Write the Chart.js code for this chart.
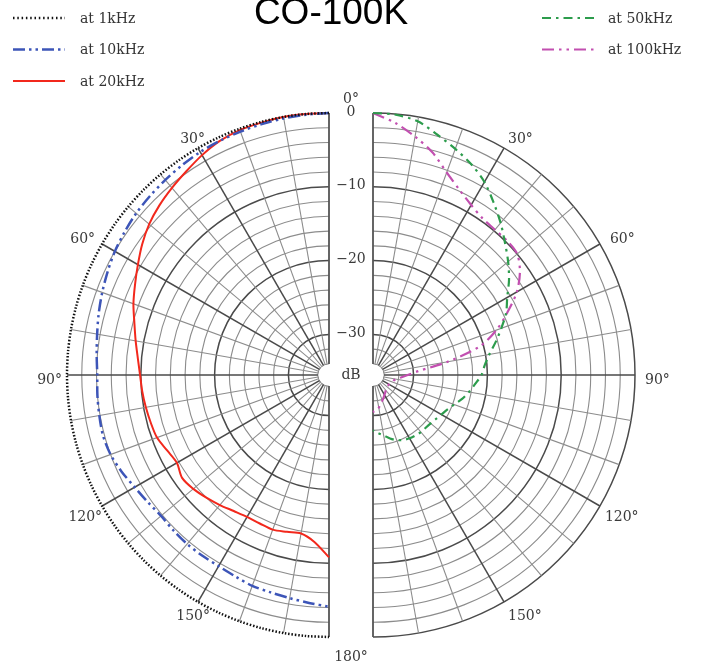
<!DOCTYPE html>
<html>
<head>
<meta charset="utf-8">
<script src="https://cdn.jsdelivr.net/npm/chart.js@4.4.1/dist/chart.umd.min.js"></script>
<style>
	html, body { margin: 0; padding: 0; background: #fff; }
	#polar { display: block; }
</style>
</head>
<body>
<canvas id="polar" width="701" height="665"></canvas>
<script>
// angles in degrees, 0 = front (top), 180 = back (bottom)
var angles = [0, 5, 10, 15, 20, 25, 30, 35, 40, 45, 50, 55, 60, 65, 70, 75, 80, 85, 90,
	95, 100, 105, 110, 115, 120, 125, 130, 135, 140, 145, 150, 155, 160, 165, 170, 175, 180];

// left half
var at1kHz = [0, 0, 0, 0, 0, 0, 0, 0, 0, 0, 0, 0, 0, 0, 0, 0, 0, 0, 0,
	0, 0, 0, 0, 0, 0, 0, 0, 0, 0, 0, 0, 0, 0, 0, 0, 0, 0];
var at10kHz = [0, -0.1, -0.2, -0.3, -0.4, -0.5, -0.6, -0.8, -1.0, -1.2, -1.4, -1.7, -2.0, -2.4, -2.8, -3.2, -3.6, -3.9, -4.1,
	-4.0, -3.9, -3.8, -4.0, -4.5, -5.1, -5.5, -5.8, -5.7, -5.6, -5.6, -5.6, -5.4, -5.1, -5.0, -4.8, -4.5, -4.1];
var at20kHz = [0, 0, 0, -0.1, -0.2, -0.5, -1.1, -1.8, -2.4, -3.0, -3.7, -4.6, -5.6, -6.5, -7.3, -8.2, -8.9, -9.5, -9.9,
	-10.1, -10.3, -10.5, -10.7, -11.3, -11.7, -11.2, -11.5, -12.0, -12.5, -13.0, -13.3, -13.3, -13.2, -13.5, -13.7, -12.8, -10.8];

// right half
var at50kHz = [0, -0.1, -0.6, -1.8, -2.9, -4.0, -5.3, -7.0, -8.6, -10.2, -11.6, -13.0, -14.5, -15.6, -17.0, -18.3, -19.5, -20.3, -20.8,
	-21.6, -22.3, -23.0, -23.8, -24.4, -24.8, -25.1, -25.3, -25.4, -25.4, -25.5, -25.6, -25.8, -26.1, -26.6, -27.2, -27.6, -28.0];
var at100kHz = [0, -1.2, -2.7, -4.3, -6.3, -7.8, -8.9, -9.6, -9.8, -9.8, -10.0, -11.2, -13.0, -15.4, -17.7, -20.5, -25.3, -29.3, -30.8,
	-31.7, -32.3, -32.6, -32.7, -32.9, -33.0, -33.0, -33.0, -32.9, -32.8, -32.6, -32.4, -32.1, -31.8, -31.4, -31.0, -30.7, -30.5];

var dbRings = [-34, -32, -30, -28, -26, -24, -22, -20, -18, -16, -14, -12, -10, -8, -6, -4, -2, 0];
var dbLabels = [0, -10, -20, -30];
var spokes = [10, 20, 30, 40, 50, 60, 70, 80, 90, 100, 110, 120, 130, 140, 150, 160, 170];
var angleLabels = [30, 60, 90, 120, 150];

// geometry (dB units: radius = dB - DB_MIN)
var DB_MIN = -35.5;
var PXU = 262 / 35.5;
var HALF = 22 / PXU;

function polar(side, deg, db) {
	var r = db - DB_MIN;
	var t = deg * Math.PI / 180;
	return { x: side * HALF + side * r * Math.sin(t), y: r * Math.cos(t) };
}

function serie(side, values) {
	return angles.map(function(a, i) { return polar(side, a, values[i]); });
}

var series = [
	{ label: 'at 1kHz', side: -1, data: at1kHz, color: '#111111', width: 2.5, dash: [1.5, 1.8] },
	{ label: 'at 10kHz', side: -1, data: at10kHz, color: '#3d55b8', width: 2.5, dash: [12, 4, 2.5, 4, 2.5, 4] },
	{ label: 'at 20kHz', side: -1, data: at20kHz, color: '#f2281c', width: 2, dash: [] },
	{ label: 'at 50kHz', side: 1, data: at50kHz, color: '#2c9c4c', width: 2.2, dash: [9, 5, 2.5, 5] },
	{ label: 'at 100kHz', side: 1, data: at100kHz, color: '#c24fb0', width: 2.2, dash: [12, 5, 2.5, 5, 2.5, 5] }
];

var gridPlugin = {
	id: 'polarGrid',
	beforeDatasetsDraw: function(chart) {
		var ctx = chart.ctx;
		var xs = chart.scales.x, ys = chart.scales.y;
		var cy = ys.getPixelForValue(0);
		function rad(db) { return xs.getPixelForValue(db - DB_MIN) - xs.getPixelForValue(0); }
		var rIn = rad(dbRings[0]), rOut = rad(0);

		ctx.save();
		[-1, 1].forEach(function(side) {
			var cx = xs.getPixelForValue(side * HALF);
			// rings
			dbRings.forEach(function(db) {
				if (side < 0 && db === 0) return;
				var thick = db % 10 === 0;
				ctx.beginPath();
				ctx.arc(cx, cy, rad(db), -Math.PI / 2, Math.PI / 2, side < 0);
				ctx.lineWidth = thick ? 1.5 : 1.1;
				ctx.strokeStyle = thick ? '#4a4a4a' : '#8c8c8c';
				ctx.stroke();
			});
			// spokes
			spokes.forEach(function(a) {
				var t = a * Math.PI / 180;
				var thick = a % 30 === 0;
				ctx.beginPath();
				ctx.moveTo(cx + side * rIn * Math.sin(t), cy - rIn * Math.cos(t));
				ctx.lineTo(cx + side * rOut * Math.sin(t), cy - rOut * Math.cos(t));
				ctx.lineWidth = thick ? 1.5 : 1.1;
				ctx.strokeStyle = thick ? '#4a4a4a' : '#8c8c8c';
				ctx.stroke();
			});
			// straight edges (0 and 180 deg)
			ctx.beginPath();
			ctx.moveTo(cx, cy - rOut); ctx.lineTo(cx, cy - rIn);
			ctx.moveTo(cx, cy + rIn); ctx.lineTo(cx, cy + rOut);
			ctx.lineWidth = 1.8;
			ctx.strokeStyle = '#555555';
			ctx.stroke();
			// hole
			ctx.beginPath();
			ctx.arc(cx, cy, rIn - 0.6, 0, Math.PI * 2);
			ctx.fillStyle = '#ffffff';
			ctx.fill();
		});

		// middle column labels
		var mx = (xs.getPixelForValue(-HALF) + xs.getPixelForValue(HALF)) / 2;
		ctx.fillStyle = '#3a3a3a';
		ctx.font = '14px "DejaVu Serif"';
		ctx.textAlign = 'center';
		ctx.textBaseline = 'middle';
		dbLabels.forEach(function(db) {
			ctx.fillText(db === 0 ? '0' : '\u2212' + Math.abs(db), mx, cy - rad(db) - 1);
		});
		ctx.fillText('0\u00b0', mx, cy - rOut - 14);
		ctx.fillText('dB', mx, cy);
		ctx.fillText('180\u00b0', mx, cy + rOut + 20);

		// angle labels: [left dx, left dy, right dx, right dy]
		var offs = {
			30: [-7, -9, 4, -9], 60: [7, -5, 10, -5], 90: [5, 5, 10, 5],
			120: [0, 11, 5, 11], 150: [-12, 14, 4, 14]
		};
		[-1, 1].forEach(function(side) {
			var cx = xs.getPixelForValue(side * HALF);
			angleLabels.forEach(function(a) {
				var t = a * Math.PI / 180;
				var ex = cx + side * rOut * Math.sin(t), ey = cy - rOut * Math.cos(t);
				var o = offs[a];
				if (side < 0) {
					ctx.textAlign = 'right';
					ctx.fillText(a + '\u00b0', ex - o[0], ey + o[1]);
				} else {
					ctx.textAlign = 'left';
					ctx.fillText(a + '\u00b0', ex + o[2], ey + o[3]);
				}
			});
		});
		ctx.restore();
	},
	afterDraw: function(chart) {
		var ctx = chart.ctx;
		ctx.save();
		// title
		ctx.fillStyle = '#000';
		ctx.font = '37px "Liberation Sans", Arial, sans-serif';
		ctx.textAlign = 'center';
		ctx.textBaseline = 'alphabetic';
		ctx.fillText('CO-100K', 331, 24);

		// legend
		var spots = [
			{ x1: 13, x2: 65, tx: 80, y: 18 },
			{ x1: 13, x2: 65, tx: 80, y: 49.5 },
			{ x1: 13, x2: 65, tx: 80, y: 81 },
			{ x1: 542, x2: 595, tx: 608, y: 18 },
			{ x1: 542, x2: 595, tx: 608, y: 49.5 }
		];
		ctx.font = '14px "DejaVu Serif"';
		ctx.textAlign = 'left';
		ctx.textBaseline = 'middle';
		series.forEach(function(s, i) {
			var p = spots[i];
			ctx.beginPath();
			ctx.setLineDash(i === 0 ? [1.5, 2.8] : s.dash);
			ctx.moveTo(p.x1, p.y);
			ctx.lineTo(p.x2, p.y);
			ctx.lineWidth = s.width;
			ctx.strokeStyle = s.color;
			ctx.stroke();
			ctx.setLineDash([]);
			ctx.fillStyle = '#333333';
			ctx.fillText(s.label, p.tx, p.y + 1);
		});
		ctx.restore();
	}
};

new Chart(document.getElementById('polar').getContext('2d'), {
	type: 'scatter',
	data: {
		datasets: series.map(function(s) {
			return {
				label: s.label,
				data: serie(s.side, s.data),
				showLine: true,
				borderColor: s.color,
				borderWidth: s.width,
				borderDash: s.dash,
				pointRadius: 0,
				tension: 0.3,
				fill: false
			};
		})
	},
	options: {
		responsive: false,
		animation: false,
		layout: { padding: 0 },
		plugins: { legend: { display: false }, tooltip: { enabled: false }, title: { display: false } },
		scales: {
			x: { type: 'linear', display: false, min: -351 / PXU, max: 350 / PXU },
			y: { type: 'linear', display: false, min: -290 / PXU, max: 375 / PXU }
		}
	},
	plugins: [gridPlugin]
});
</script>
</body>
</html>
